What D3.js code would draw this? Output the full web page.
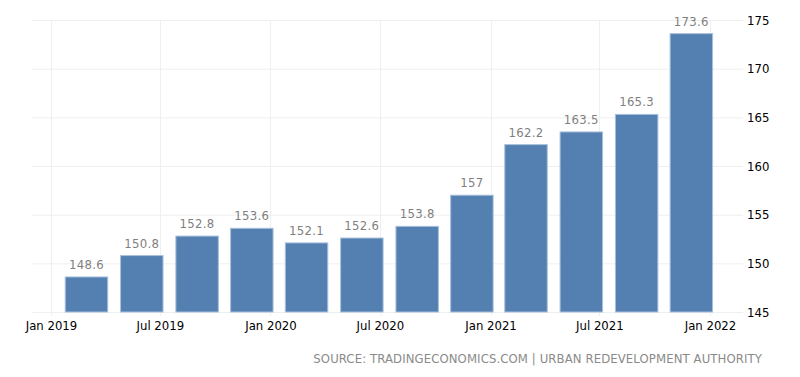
<!DOCTYPE html>
<html>
<head>
<meta charset="utf-8">
<script src="https://cdn.jsdelivr.net/npm/d3@7"></script>
<style>
  body { margin: 0; background: #fff; }
  svg text { font-family: "DejaVu Sans Condensed", "DejaVu Sans", sans-serif; font-stretch: condensed; }
</style>
</head>
<body>
<svg id="chart" width="800" height="377"></svg>
<script>
// quarterly index, Q1 2019 .. Q4 2021
var quarters = ["2019-Q1", "2019-Q2", "2019-Q3", "2019-Q4", "2020-Q1", "2020-Q2",
  "2020-Q3", "2020-Q4", "2021-Q1", "2021-Q2", "2021-Q3", "2021-Q4"];
var values = [148.6, 150.8, 152.8, 153.6, 152.1, 152.6, 153.8, 157, 162.2, 163.5, 165.3, 173.6];
var labels = ["148.6", "150.8", "152.8", "153.6", "152.1", "152.6", "153.8", "157", "162.2", "163.5", "165.3", "173.6"];
var yTicks = [145, 150, 155, 160, 165, 170, 175];
var source = "SOURCE: TRADINGECONOMICS.COM | URBAN REDEVELOPMENT AUTHORITY";

var parseQ = q => {
  let p = q.split("-Q");
  // bar sits in the middle-ish of the quarter
  return new Date(+p[0], (+p[1] - 1) * 3 + 2, 1);
};

var data = quarters.map((q, i) => ({ date: parseQ(q), value: values[i], label: labels[i] }));

var svg = d3.select("#chart");

var x = d3.scaleTime()
  .domain([new Date(2019, 0, 1), new Date(2022, 0, 1)])
  .range([51, 710]);

var y = d3.scaleLinear()
  .domain([145, 175])
  .range([312, 20]);

// grid
svg.append("g")
  .selectAll("line")
  .data(yTicks)
  .enter()
  .append("line")
  .attr("x1", 32)
  .attr("x2", 743)
  .attr("y1", d => y(d) + 0.5)
  .attr("y2", d => y(d) + 0.5)
  .attr("stroke", "#efefef");

var xTicks = d3.timeMonth.every(6).range(new Date(2019, 0, 1), new Date(2022, 0, 2));

svg.append("g")
  .selectAll("line")
  .data(xTicks)
  .enter()
  .append("line")
  .attr("x1", d => Math.round(x(d)) + 0.5)
  .attr("x2", d => Math.round(x(d)) + 0.5)
  .attr("y1", y(175))
  .attr("y2", y(145) + 4)
  .attr("stroke", "#efefef");

// bars
var step = x(new Date(2019, 3, 1)) - x(new Date(2019, 0, 1));
var bw = step * 0.785;

svg.append("g")
  .selectAll("rect")
  .data(data)
  .enter()
  .append("rect")
  .attr("x", d => x(d.date) - bw / 2)
  .attr("width", bw)
  .attr("y", d => y(d.value))
  .attr("height", d => y(145) - y(d.value))
  .attr("fill", "#5480b1")
  .attr("stroke", "#a9c0dc")
  .attr("stroke-width", 1);

svg.append("g")
  .selectAll("text")
  .data(data)
  .enter()
  .append("text")
  .attr("x", d => x(d.date))
  .attr("y", d => y(d.value) - 8)
  .attr("text-anchor", "middle")
  .attr("font-size", 13)
  .attr("letter-spacing", 0.3)
  .attr("fill", "#7f7f7f")
  .text(d => d.label);

// axes
var xAxis = d3.axisBottom(x)
  .tickValues(xTicks)
  .tickFormat(d3.timeFormat("%b %Y"))
  .tickSize(0)
  .tickPadding(8);

svg.append("g")
  .attr("transform", "translate(0,312)")
  .call(xAxis)
  .call(g => g.select(".domain").remove())
  .selectAll("text")
  .attr("font-size", 13)
  .attr("fill", "#000")
  .attr("dy", "0.8em");

var yAxis = d3.axisRight(y)
  .tickValues(yTicks)
  .tickSize(0)
  .tickPadding(4);

svg.append("g")
  .attr("transform", "translate(743,0)")
  .call(yAxis)
  .call(g => g.select(".domain").remove())
  .selectAll("text")
  .attr("font-size", 13)
  .attr("fill", "#000");

svg.append("text")
  .attr("x", 762)
  .attr("y", 363)
  .attr("text-anchor", "end")
  .attr("font-size", 13)
  .attr("letter-spacing", 0.1)
  .attr("fill", "#8a8a8a")
  .text(source);
</script>
</body>
</html>
